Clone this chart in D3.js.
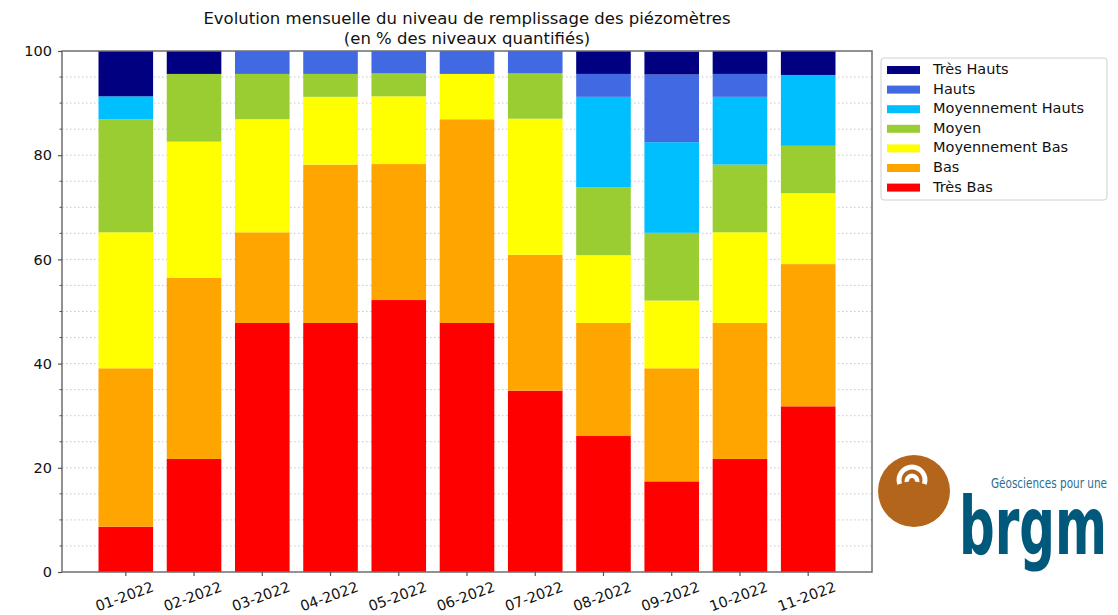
<!DOCTYPE html>
<html>
<head>
<meta charset="utf-8">
<script src="https://cdn.jsdelivr.net/npm/d3@7"></script>
<style>
  html, body { margin: 0; padding: 0; background: #fff; }
  svg { display: block; font-family: "DejaVu Sans", sans-serif; }
</style>
</head>
<body>
<svg id="chart" width="1118" height="615"></svg>
<script>
// Monthly piezometer fill-level classes (% of quantified levels)
const months = ["01-2022","02-2022","03-2022","04-2022","05-2022","06-2022",
                "07-2022","08-2022","09-2022","10-2022","11-2022"];

const tresBas       = [8.7, 21.7, 47.8, 47.8, 52.2, 47.8, 34.8, 26.1, 17.4, 21.7, 31.8];
const bas           = [30.4, 34.8, 17.4, 30.4, 26.1, 39.1, 26.1, 21.7, 21.7, 26.1, 27.3];
const moyBas        = [26.1, 26.1, 21.7, 13.0, 13.0, 8.7, 26.1, 13.0, 13.0, 17.4, 13.6];
const moyen         = [21.7, 13.0, 8.7, 4.4, 4.4, 0, 8.7, 13.0, 13.0, 13.0, 9.1];
const moyHauts      = [4.4, 0, 0, 0, 0, 0, 0, 17.4, 17.4, 13.0, 13.6];
const hauts         = [0, 0, 4.4, 4.4, 4.3, 4.4, 4.3, 4.4, 13.0, 4.4, 0];
const tresHauts     = [8.7, 4.4, 0, 0, 0, 0, 0, 4.4, 4.4, 4.4, 4.6];

const seriesNames  = ["Très Bas","Bas","Moyennement Bas","Moyen","Moyennement Hauts","Hauts","Très Hauts"];
const seriesValues = [tresBas, bas, moyBas, moyen, moyHauts, hauts, tresHauts];
const seriesColors = ["#ff0000","#ffa500","#ffff00","#9acd32","#00bfff","#4169e1","#000080"];
const yTicks = [0, 20, 40, 60, 80, 100];

const svg = d3.select("#chart");
const plot = { left: 62, right: 872, top: 51, bottom: 572 };

// Category scale: bar centres on a step, width ≈ 0.8 of the step
const x = d3.scaleBand()
  .domain(months)
  .range([plot.left, plot.right])
  .paddingInner(0.2)
  .paddingOuter(0.535);

const y = d3.scaleLinear().domain([0, 100]).range([plot.bottom, plot.top]);

// Stacked table built from the named arrays
const table = months.map((m, i) => {
  const row = { month: m };
  seriesNames.forEach((s, k) => row[s] = seriesValues[k][i]);
  return row;
});
const stack = d3.stack().keys(seriesNames)(table);

// Dotted grid every 5 %
svg.append("g")
  .selectAll("line")
  .data(d3.range(5, 100, 5))
  .join("line")
  .attr("x1", plot.left).attr("x2", plot.right)
  .attr("y1", d => y(d)).attr("y2", d => y(d))
  .attr("stroke", "#c8c8c8")
  .attr("stroke-width", 1)
  .attr("stroke-dasharray", "1.5,2.5");

// Bars
svg.append("g")
  .selectAll("g")
  .data(stack)
  .join("g")
  .attr("fill", (d, k) => seriesColors[k])
  .selectAll("rect")
  .data(d => d)
  .join("rect")
  .attr("x", d => x(d.data.month))
  .attr("width", x.bandwidth())
  .attr("y", d => y(d[1]))
  .attr("height", d => Math.max(0, y(d[0]) - y(d[1])));

// Frame
svg.append("rect")
  .attr("x", plot.left).attr("y", plot.top)
  .attr("width", plot.right - plot.left)
  .attr("height", plot.bottom - plot.top)
  .attr("fill", "none")
  .attr("stroke", "#6e6e6e")
  .attr("stroke-width", 1.5);

// Y axis: major ticks labelled, minor every 5
const yAxis = svg.append("g").attr("transform", `translate(${plot.left},0)`);
yAxis.selectAll("line.minor")
  .data(d3.range(5, 100, 5).filter(v => v % 20 !== 0))
  .join("line")
  .attr("class", "minor")
  .attr("x1", -2.5).attr("x2", 0)
  .attr("y1", d => y(d)).attr("y2", d => y(d))
  .attr("stroke", "#555").attr("stroke-width", 1);
yAxis.call(d3.axisLeft(y).tickValues(yTicks).tickSize(4).tickPadding(6))
  .call(g => g.select(".domain").remove())
  .call(g => g.selectAll(".tick line").attr("stroke", "#555").attr("stroke-width", 1.2))
  .call(g => g.selectAll("text")
    .attr("font-size", 14.5)
    .attr("font-family", "DejaVu Sans, sans-serif")
    .attr("fill", "#111"));

// X axis with rotated month labels
const xAxis = svg.append("g").attr("transform", `translate(0,${plot.bottom})`);
xAxis.call(d3.axisBottom(x).tickSize(4).tickSizeOuter(0))
  .call(g => g.select(".domain").remove())
  .call(g => g.selectAll(".tick line").attr("stroke", "#555").attr("stroke-width", 1.2))
  .call(g => g.selectAll("text")
    .attr("font-size", 14.5)
    .attr("font-family", "DejaVu Sans, sans-serif")
    .attr("fill", "#111")
    .attr("y", 0).attr("dy", 0)
    .attr("text-anchor", "middle")
    .attr("dominant-baseline", "middle")
    .attr("transform", "translate(-1,25.5) rotate(-20)"));

// Title
const title = svg.append("text")
  .attr("text-anchor", "middle")
  .attr("font-size", 16.5)
  .attr("fill", "#111");
title.append("tspan").attr("x", (plot.left + plot.right) / 2).attr("y", 24)
  .text("Evolution mensuelle du niveau de remplissage des piézomètres");
title.append("tspan").attr("x", (plot.left + plot.right) / 2).attr("y", 44)
  .text("(en % des niveaux quantifiés)");

// Legend (top class first)
const legend = svg.append("g").attr("transform", "translate(881,58)");
legend.append("rect")
  .attr("width", 226).attr("height", 142)
  .attr("rx", 3)
  .attr("fill", "#fff")
  .attr("stroke", "#d0d0d0");
const order = d3.range(seriesNames.length).reverse();
const items = legend.selectAll("g.item")
  .data(order)
  .join("g")
  .attr("class", "item")
  .attr("transform", (k, i) => `translate(0,${12 + i * 19.6})`);
items.append("rect")
  .attr("x", 6).attr("y", -4).attr("width", 33).attr("height", 8)
  .attr("fill", k => seriesColors[k]);
items.append("text")
  .attr("x", 52).attr("y", 0)
  .attr("dominant-baseline", "middle")
  .attr("font-size", 14.5)
  .attr("fill", "#111")
  .text(k => seriesNames[k]);

// brgm logo
const logo = svg.append("g");
logo.append("circle").attr("cx", 914).attr("cy", 491).attr("r", 36).attr("fill", "#b3651b");
const arc = d3.arc();
logo.append("path")
  .attr("transform", "translate(912,480)")
  .attr("d", arc({ innerRadius: 10.5, outerRadius: 15.5, startAngle: -Math.PI * 0.6, endAngle: Math.PI * 0.6 }))
  .attr("fill", "#fff");
logo.append("path")
  .attr("transform", "translate(912,481)")
  .attr("d", arc({ innerRadius: 3, outerRadius: 7.5, startAngle: -Math.PI * 0.55, endAngle: Math.PI * 0.55 }))
  .attr("fill", "#fff");

// Condensed wordmark: natural text squeezed horizontally to a target width
function squeezedText(parent, str, x0, y0, width, attrs) {
  const t = parent.append("text").attr("x", 0).attr("y", 0).text(str);
  Object.entries(attrs).forEach(([k, v]) => t.attr(k, v));
  const natural = t.node().getComputedTextLength();
  t.attr("transform", `translate(${x0},${y0}) scale(${width / natural},1)`);
  return t;
}
squeezedText(logo, "Géosciences pour une", 991, 488, 116, {
  "font-family": "DejaVu Sans Condensed, sans-serif",
  "font-size": 14,
  "fill": "#2d6d8c"
});
squeezedText(logo, "brgm", 959, 554, 148, {
  "font-family": "DejaVu Sans Condensed, sans-serif",
  "font-weight": "bold",
  "font-size": 80,
  "fill": "#00587a"
});
</script>
</body>
</html>
